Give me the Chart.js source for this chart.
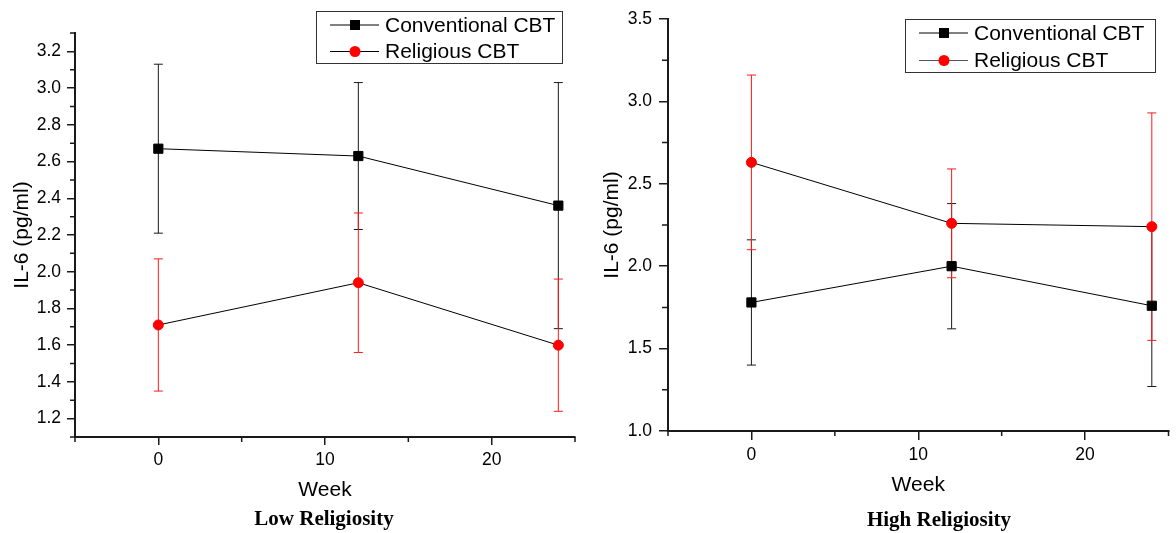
<!DOCTYPE html>
<html>
<head>
<meta charset="utf-8">
<title>IL-6 by religiosity</title>
<script src="https://cdn.jsdelivr.net/npm/chart.js@4.4.1/dist/chart.umd.min.js"></script>
<style>
  html, body { margin: 0; padding: 0; background: #fff; }
  body { width: 1176px; height: 533px; position: relative; overflow: hidden; }
  .panel { position: absolute; top: 0; height: 533px; }
  .caption {
    position: absolute;
    font: bold 21px "Liberation Serif", "Times New Roman", serif;
    line-height: 21px;
    color: #000;
    white-space: nowrap;
    transform: translateX(-50%);
  }
</style>
</head>
<body>
<div class="panel" style="left:0;width:590px"><canvas id="chartLow" width="590" height="533"></canvas></div>
<div class="panel" style="left:590px;width:586px"><canvas id="chartHigh" width="586" height="533"></canvas></div>
<div class="caption" style="left:324px;top:508px">Low Religiosity</div>
<div class="caption" style="left:939px;top:509px">High Religiosity</div>

<script>
const weeks = [0, 12, 24];
const seriesNames = ['Conventional CBT', 'Religious CBT'];

// low religiosity: mean and error (+/-)
const lowConventional = [2.67, 2.63, 2.36];
const lowConventionalErr = [0.46, 0.40, 0.67];
const lowReligious = [1.71, 1.94, 1.60];
const lowReligiousErr = [0.36, 0.38, 0.36];

// high religiosity
const highConventional = [1.78, 2.00, 1.76];
const highConventionalErr = [0.38, 0.38, 0.49];
const highReligious = [2.63, 2.26, 2.24];
const highReligiousErr = [0.53, 0.33, 0.69];

// tick values
const xTicks = [0, 10, 20];
const xMinorTicks = [-5, 5, 15, 25];
const lowYTicks = [1.2, 1.4, 1.6, 1.8, 2.0, 2.2, 2.4, 2.6, 2.8, 3.0, 3.2];
const lowYMinorTicks = [1.1, 1.3, 1.5, 1.7, 1.9, 2.1, 2.3, 2.5, 2.7, 2.9, 3.1, 3.3];
const highYTicks = [1.0, 1.5, 2.0, 2.5, 3.0, 3.5];
const highYMinorTicks = [1.25, 1.75, 2.25, 2.75, 3.25];

const FONT = '"Liberation Sans", Arial, Helvetica, sans-serif';
const AXIS = '#1a1a1a';

function makeChart(id, cfg) {
    const datasets = [
        {
            label: seriesNames[0],
            data: weeks.map((w, i) => ({ x: w, y: cfg.conv[i] })),
            errors: cfg.convErr,
            errorColor: '#1a1a1a',
            borderColor: '#000',
            borderWidth: 1,
            pointStyle: 'rect',
            pointRadius: 6.5,
            pointBackgroundColor: '#000',
            pointBorderColor: '#000',
            pointBorderWidth: 1,
            legendLine: '#000'
        },
        {
            label: seriesNames[1],
            data: weeks.map((w, i) => ({ x: w, y: cfg.rel[i] })),
            errors: cfg.relErr,
            errorColor: '#ff1a1a',
            borderColor: '#000',
            borderWidth: 1,
            pointStyle: 'circle',
            pointRadius: 5,
            pointBackgroundColor: '#ff0000',
            pointBorderColor: '#ff0000',
            pointBorderWidth: 1,
            legendLine: cfg.relLegendLine
        }
    ];

    // vertical error bars with caps, drawn under the markers
    const errorBars = {
        id: 'errorBars',
        beforeDatasetsDraw(chart) {
            const { ctx, scales: { x, y } } = chart;
            ctx.save();
            ctx.lineWidth = 1;
            chart.data.datasets.forEach(ds => {
                ctx.strokeStyle = ds.errorColor;
                ds.data.forEach((pt, i) => {
                    const px = x.getPixelForValue(pt.x);
                    const top = y.getPixelForValue(pt.y + ds.errors[i]);
                    const bottom = y.getPixelForValue(pt.y - ds.errors[i]);
                    ctx.beginPath();
                    ctx.moveTo(px, top);
                    ctx.lineTo(px, bottom);
                    ctx.moveTo(px - 4.5, top);
                    ctx.lineTo(px + 4.5, top);
                    ctx.moveTo(px - 4.5, bottom);
                    ctx.lineTo(px + 4.5, bottom);
                    ctx.stroke();
                });
            });
            ctx.restore();
        }
    };

    // short unlabeled ticks between the major ones
    const minorTicks = {
        id: 'minorTicks',
        afterDraw(chart) {
            const { ctx, chartArea, scales: { x, y } } = chart;
            ctx.save();
            ctx.strokeStyle = AXIS;
            ctx.lineWidth = 1.5;
            ctx.beginPath();
            xMinorTicks.forEach(v => {
                const px = x.getPixelForValue(v);
                ctx.moveTo(px, chartArea.bottom);
                ctx.lineTo(px, chartArea.bottom + 5);
            });
            cfg.yMinor.forEach(v => {
                const py = y.getPixelForValue(v);
                ctx.moveTo(chartArea.left, py);
                ctx.lineTo(chartArea.left - cfg.yMinorLen, py);
            });
            ctx.stroke();
            ctx.restore();
        }
    };

    // boxed legend like the original
    const legendBox = {
        id: 'legendBox',
        afterDraw(chart) {
            const ctx = chart.ctx;
            const b = cfg.legend;
            ctx.save();
            ctx.fillStyle = '#fff';
            ctx.fillRect(b.x, b.y, b.w, b.h);
            ctx.strokeStyle = '#333';
            ctx.lineWidth = 1;
            ctx.strokeRect(b.x + 0.5, b.y + 0.5, b.w, b.h);
            chart.data.datasets.forEach((ds, i) => {
                const cy = b.y + b.row0 + i * b.rowGap;
                const mx = b.x + 39;
                ctx.strokeStyle = ds.legendLine;
                ctx.beginPath();
                ctx.moveTo(b.x + 14, cy);
                ctx.lineTo(b.x + 63, cy);
                ctx.stroke();
                ctx.fillStyle = ds.pointBackgroundColor;
                if (ds.pointStyle === 'rect') {
                    ctx.fillRect(mx - 5, cy - 5, 10, 10);
                } else {
                    ctx.beginPath();
                    ctx.arc(mx, cy, 5.5, 0, Math.PI * 2);
                    ctx.fill();
                }
                ctx.fillStyle = '#000';
                ctx.font = '21px ' + FONT;
                ctx.textBaseline = 'middle';
                ctx.fillText(ds.label, b.x + 69, cy + 1);
            });
            ctx.restore();
        }
    };

    return new Chart(document.getElementById(id), {
        type: 'line',
        data: { datasets },
        plugins: [errorBars, minorTicks, legendBox],
        options: {
            responsive: false,
            animation: false,
            events: [],
            layout: { padding: cfg.padding },
            plugins: {
                legend: { display: false },
                tooltip: { enabled: false }
            },
            elements: { line: { tension: 0, fill: false } },
            scales: {
                x: {
                    type: 'linear',
                    min: -5,
                    max: 25,
                    afterBuildTicks: s => { s.ticks = xTicks.map(v => ({ value: v })); },
                    afterFit: s => { s.height = cfg.xHeight; },
                    grid: { display: true, drawOnChartArea: false, drawTicks: true, tickLength: cfg.xTickLen, color: AXIS, lineWidth: 1.5 },
                    border: { display: true, color: AXIS, width: 2 },
                    ticks: { color: '#000', font: { size: 17.5, family: FONT }, padding: 5, maxRotation: 0, autoSkip: false },
                    title: { display: true, text: 'Week', color: '#000', font: { size: 21, family: FONT }, padding: { top: 0, bottom: cfg.xTitlePad } }
                },
                y: {
                    type: 'linear',
                    min: cfg.yMin,
                    max: cfg.yMax,
                    afterBuildTicks: s => { s.ticks = cfg.yTicks.map(v => ({ value: v })); },
                    afterFit: s => { s.width = cfg.yWidth; },
                    grid: { display: true, drawOnChartArea: false, drawTicks: true, tickLength: cfg.yTickLen, color: AXIS, lineWidth: 1.5 },
                    border: { display: true, color: AXIS, width: 2 },
                    ticks: { color: '#000', font: { size: 17.5, family: FONT }, padding: cfg.yTickPad, autoSkip: false, callback: v => Number(v).toFixed(1) },
                    title: { display: true, text: 'IL-6 (pg/ml)', color: '#000', font: { size: 21, family: FONT }, padding: { top: 10, bottom: 0 } }
                }
            }
        }
    });
}

makeChart('chartLow', {
    conv: lowConventional, convErr: lowConventionalErr,
    rel: lowReligious, relErr: lowReligiousErr,
    relLegendLine: '#000',
    yMin: 1.1, yMax: 3.3, yTicks: lowYTicks, yMinor: lowYMinorTicks,
    padding: { left: 0, top: 33, right: 15, bottom: 0 },
    yWidth: 75, xHeight: 96,
    xTickLen: 8, yTickLen: 8, yMinorLen: 5, yTickPad: 6, xTitlePad: 30,
    legend: { x: 316, y: 11, w: 246, h: 52, row0: 14, rowGap: 26.5 }
});

makeChart('chartHigh', {
    conv: highConventional, convErr: highConventionalErr,
    rel: highReligious, relErr: highReligiousErr,
    relLegendLine: '#555',
    yMin: 1.0, yMax: 3.5, yTicks: highYTicks, yMinor: highYMinorTicks,
    padding: { left: 0, top: 19, right: 1, bottom: 0 },
    yWidth: 78, xHeight: 102,
    xTickLen: 9, yTickLen: 9, yMinorLen: 6, yTickPad: 7, xTitlePad: 35,
    legend: { x: 315, y: 19, w: 250, h: 53, row0: 14, rowGap: 27.5 }
});
</script>
</body>
</html>
